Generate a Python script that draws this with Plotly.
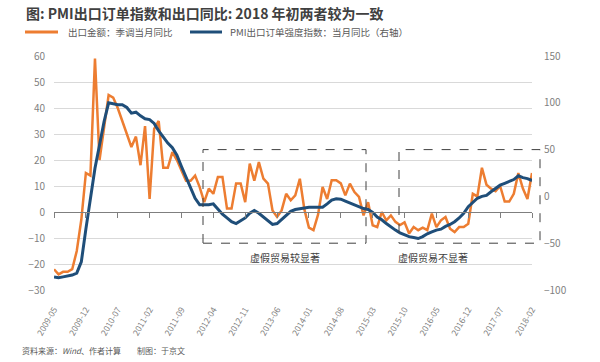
import plotly.graph_objects as go

# Monthly categories 2009-05 .. 2018-02
months = [f"{y}-{m:02d}" for y in range(2009, 2019) for m in range(1, 13)]
months = months[months.index("2009-05"):months.index("2018-02") + 1]

tick_labels = ["2009-05", "2009-12", "2010-07", "2011-02", "2011-09", "2012-04",
               "2012-11", "2013-06", "2014-01", "2014-08", "2015-03", "2015-10",
               "2016-05", "2016-12", "2017-07", "2018-02"]

# 出口金额：季调当月同比 (left axis, %)
export_yoy = [
    -22, -24, -23, -23, -22, -15, -3, 15, 14, 59,
    20, 33, 45, 44, 40, 35, 30, 25, 29, 18,
    33, 5, 32, 35, 17, 17, 23, 20, 16, 12,
    12, 14, 9.6, 3.8, 9, 7, 13.5, 13.5, 1.3, 1.3,
    11, 11, 3.8, 18.6, 12, 19.2, 12.8, 10.9, 0.6, -1.9,
    0.6, 7, 4.5, 6.4, 12.8, 1, -6, -7, -1, 9.6,
    5, 12.2, 12.2, 11, 6.4, 10.9, 7.7, 5.8, -1.3, 3.8,
    -5.1, -5.8, 0, -3.2, -1.3, -3.8, -5, -4, -8.3, -5.8,
    -7, -6, -7, -0.6, -5.8, -3.2, -1.9, -6.4, -7.7, -5.8,
    -5.8, -4.5, 7, 6, 17, 10.5, 9, 8, 10, 4,
    4, 7, 15, 9, 5, 15,
]

# PMI出口订单强度指数：当月同比 (right axis)
pmi_yoy = [
    -86, -87, -86, -85, -84, -82, -70, -35, 0, 30,
    55, 80, 100, 99, 98, 98, 95, 89, 90, 86,
    83, 82, 78, 70, 63, 57, 52, 44, 32, 20,
    8, -2, -9, -9, -9, -8, -14, -19, -23, -27,
    -29, -26, -23, -18, -15, -18, -22, -26, -30, -29,
    -25, -20, -16, -14, -13, -12.5, -11.5, -11.5, -11.5, -11.5,
    -8, -4, -2.5, -3, -5, -7, -9, -11.5, -13, -14,
    -17, -22, -25, -29, -33, -36, -39, -41, -43, -44,
    -45, -43, -40, -38, -36, -35, -32, -30, -27, -23,
    -18, -11, -6, -2, 0, 1, 5, 9, 12, 14,
    16, 18, 22, 20, 19, 17,
]

series_names = ["出口金额：季调当月同比", "PMI出口订单强度指数：当月同比（右轴）"]
left_ticks = [-30, -20, -10, 0, 10, 20, 30, 40, 50, 60]
right_ticks = [-100, -50, 0, 50, 100, 150]

ORANGE = "#ED7D31"
BLUE = "#1F4E79"
GRID = "#d9d9d9"
TXT = "#595959"
FONT = "Noto Sans CJK SC, Liberation Sans, sans-serif"

# plot area in pixels (for converting decoration positions to paper coords)
L, R, T, B = 54, 532, 56, 290
def px(x):
    return (x - L) / (R - L)
def py(y):
    return (B - y) / (B - T)

fig = go.Figure()
fig.add_trace(go.Scatter(x=months, y=export_yoy, mode="lines", name=series_names[0],
                         line=dict(color=ORANGE, width=2.5), showlegend=False))
fig.add_trace(go.Scatter(x=months, y=pmi_yoy, mode="lines", name=series_names[1],
                         line=dict(color=BLUE, width=3), yaxis="y2", showlegend=False))
# empty helper trace so the zero-line category axis (x2) is drawn
fig.add_trace(go.Scatter(x=months, y=[None] * len(months), mode="lines",
                         xaxis="x2", yaxis="y", showlegend=False, hoverinfo="skip"))

n = len(months)

fig.update_layout(
    width=600, height=362,
    margin=dict(l=L, r=600 - R, t=T, b=362 - B),
    paper_bgcolor="white", plot_bgcolor="white",
    font=dict(family=FONT, color=TXT, size=10),
    showlegend=False,
    xaxis=dict(type="category", range=[0, n - 1], tickmode="array",
               tickvals=tick_labels, ticktext=tick_labels, tickangle=-60,
               showgrid=False, showline=False, zeroline=False, ticks="",
               tickfont=dict(size=8.5, color="#7f7f7f"), ticklabelstandoff=12),
    xaxis2=dict(type="category", overlaying="x", anchor="free", position=1/3,
                range=[0, n - 1], tickmode="array", tickvals=tick_labels,
                showticklabels=False, ticks="outside", ticklen=5, tickcolor="#7f7f7f",
                showline=True, linecolor="#7f7f7f", linewidth=1,
                showgrid=False, zeroline=False),
    yaxis=dict(range=[-30, 60], tickmode="array", tickvals=left_ticks,
               showgrid=True, gridcolor=GRID, gridwidth=1, zeroline=False,
               showline=False, ticks="", ticklabelstandoff=8,
               tickfont=dict(size=10, color="#7f7f7f")),
    yaxis2=dict(range=[-100, 150], tickmode="array", tickvals=right_ticks,
                overlaying="y", side="right", anchor="x",
                showgrid=False, zeroline=False, showline=False, ticks="",
                ticklabelstandoff=11, tickfont=dict(size=10, color="#7f7f7f")),
)

# Legend (drawn manually to match the original placement)
fig.add_shape(type="line", xref="paper", yref="paper", x0=px(25), x1=px(58),
              y0=py(32), y1=py(32), line=dict(color=ORANGE, width=3))
fig.add_annotation(text=series_names[0], xref="paper", yref="paper", x=px(66),
                   xanchor="left", y=py(32), yanchor="middle", showarrow=False,
                   font=dict(size=9.5, color=TXT))
fig.add_shape(type="line", xref="paper", yref="paper", x0=px(190), x1=px(222),
              y0=py(32), y1=py(32), line=dict(color=BLUE, width=3))
fig.add_annotation(text=series_names[1], xref="paper", yref="paper", x=px(228),
                   xanchor="left", y=py(32), yanchor="middle", showarrow=False,
                   font=dict(size=9.5, color=TXT))

# Dashed boxes marking the two periods
box_style = dict(type="rect", xref="paper", yref="paper",
                 line=dict(color="#404040", width=1, dash="dash"),
                 fillcolor="rgba(0,0,0,0)", layer="above")
fig.add_shape(x0=px(203), x1=px(366), y0=0.2, y1=0.6, **box_style)
fig.add_shape(x0=px(399), x1=px(540), y0=0.2, y1=0.6, **box_style)

fig.add_annotation(text="虚假贸易较显著", xref="paper", yref="paper", x=px(285), y=py(257),
                   yanchor="middle", showarrow=False, font=dict(size=10, color="#404040"))
fig.add_annotation(text="虚假贸易不显著", xref="paper", yref="paper", x=px(470), y=py(257),
                   yanchor="middle", showarrow=False, font=dict(size=10, color="#404040"))

# Title
fig.add_annotation(text="<b>图: PMI出口订单指数和出口同比: 2018 年初两者较为一致</b>",
                   xref="paper", yref="paper", x=px(24), xanchor="left",
                   y=py(13), yanchor="middle", showarrow=False,
                   font=dict(size=14, color="#404040"))
# Source
fig.add_annotation(text="资料来源：<i>Wind</i>、作者计算　　制图：于京文",
                   xref="paper", yref="paper", x=px(20), xanchor="left",
                   y=py(350), yanchor="middle", showarrow=False,
                   font=dict(size=8, color=TXT))

fig.write_html("out.html", config={"displayModeBar": False},
               post_script="document.body.style.margin='0';document.body.style.overflow='hidden';")
